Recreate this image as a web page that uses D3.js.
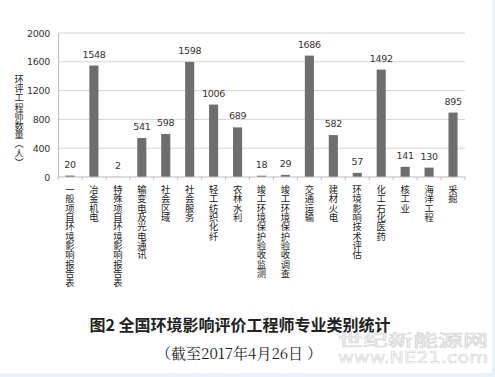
<!DOCTYPE html>
<html>
<head>
<meta charset="utf-8">
<script src="https://cdn.jsdelivr.net/npm/d3@7"></script>
<style>
  body { margin: 0; background: #fff; }
  svg { display: block; }
  .vt { writing-mode: vertical-rl; text-orientation: upright; }
</style>
</head>
<body>
<svg id="chart"></svg>
<script>
// chart data
const categories = ["一般项目环境影响报告表", "冶金机电", "特殊项目环境影响报告表", "输变电及光电通讯",
  "社会区域", "社会服务", "轻工纺织化纤", "农林水利", "竣工环境保护验收监测", "竣工环境保护验收调查",
  "交通运输", "建材火电", "环境影响技术评估", "化工石化医药", "核工业", "海洋工程", "采掘"];
const values = [20, 1548, 2, 541, 598, 1598, 1006, 689, 18, 29, 1686, 582, 57, 1492, 141, 130, 895];
const yTicks = [0, 400, 800, 1200, 1600, 2000];
const yTitle = "环评工程师数量︵人︶";
const title = "图2  全国环境影响评价工程师专业类别统计";
const subtitle = "（截至2017年4月26日 ）";

const width = 495, height = 377;
const margin = {top: 33, right: 30, bottom: 200, left: 58};

const svg = d3.select("#chart")
  .attr("width", width)
  .attr("height", height);

// light blue frame on right / bottom
svg.append("rect").attr("x", 492).attr("y", 0).attr("width", 3).attr("height", height).attr("fill", "#e9f1f9");
svg.append("rect").attr("x", 0).attr("y", 373).attr("width", width).attr("height", 4).attr("fill", "#e9f1f9");

const x = d3.scaleBand()
  .domain(categories)
  .range([margin.left, 465])
  .paddingInner(0.62)
  .paddingOuter(0.31);

const y = d3.scaleLinear()
  .domain([0, 2000])
  .range([177, margin.top]);

// gridlines
svg.append("g")
  .selectAll("line")
  .data(yTicks.filter(d => d > 0))
  .enter().append("line")
  .attr("x1", margin.left).attr("x2", 465)
  .attr("y1", d => y(d)).attr("y2", d => y(d))
  .attr("stroke", "#d4d4d4").attr("stroke-width", 1);

// y axis
const yAxis = svg.append("g")
  .attr("transform", `translate(${margin.left},0)`)
  .call(d3.axisLeft(y).tickValues(yTicks).tickFormat(d3.format("d")).tickSize(0).tickPadding(8));
yAxis.select(".domain").attr("stroke", "#bdbdbd");
yAxis.selectAll("text")
  .attr("fill", "#333")
  .style("font-family", "'DejaVu Sans', sans-serif")
  .style("font-size", "9.5px")
  .style("letter-spacing", "-0.3px");

// bars
svg.append("g")
  .selectAll("rect")
  .data(values)
  .enter().append("rect")
  .attr("x", (d, i) => x(categories[i]))
  .attr("y", d => y(d))
  .attr("width", x.bandwidth())
  .attr("height", d => y(0) - y(d))
  .attr("fill", "#6e6e6e");

// value labels
svg.append("g")
  .selectAll("text")
  .data(values)
  .enter().append("text")
  .attr("x", (d, i) => x(categories[i]) + x.bandwidth() / 2)
  .attr("y", d => y(d) - 8)
  .attr("text-anchor", "middle")
  .attr("fill", "#333")
  .style("font-family", "'DejaVu Sans', sans-serif")
  .style("font-size", "9.5px")
  .style("letter-spacing", "-0.3px")
  .text(d => d);

// x axis with ticks at band boundaries
const step = x.step();
const x0 = margin.left;
svg.append("line")
  .attr("x1", margin.left).attr("x2", 465)
  .attr("y1", 177).attr("y2", 177)
  .attr("stroke", "#bdbdbd");
svg.append("g")
  .selectAll("line")
  .data(d3.range(categories.length + 1))
  .enter().append("line")
  .attr("x1", i => x0 + i * step).attr("x2", i => x0 + i * step)
  .attr("y1", 177).attr("y2", 180)
  .attr("stroke", "#bdbdbd");

// vertical category labels
svg.append("g")
  .selectAll("text")
  .data(categories)
  .enter().append("text")
  .attr("class", "vt")
  .attr("x", d => x(d) + x.bandwidth() / 2)
  .attr("y", 185)
  .style("font-family", "'Noto Sans CJK SC', sans-serif")
  .style("font-size", "9.3px")
  .attr("fill", "#222")
  .text(d => d);

// y axis title
svg.append("text")
  .attr("class", "vt")
  .attr("x", 19)
  .attr("y", 75)
  .style("font-family", "'Noto Sans CJK SC', sans-serif")
  .style("font-size", "9.2px")
  .attr("fill", "#222")
  .text(yTitle);

// caption
svg.append("text")
  .attr("x", 240)
  .attr("y", 331)
  .attr("text-anchor", "middle")
  .style("font-family", "'Noto Sans CJK SC', sans-serif")
  .style("font-size", "16px")
  .style("font-weight", "bold")
  .attr("fill", "#222")
  .text(title);

svg.append("text")
  .attr("x", 239)
  .attr("y", 359)
  .attr("text-anchor", "middle")
  .style("font-family", "'Noto Serif CJK SC', 'Liberation Serif', serif")
  .style("font-size", "15px")
  .attr("fill", "#222")
  .text(subtitle);

// watermark (stretched outline text)
svg.append("text")
  .attr("x", 338).attr("y", 346)
  .attr("textLength", 150).attr("lengthAdjust", "spacingAndGlyphs")
  .style("font-family", "'Noto Sans CJK SC', sans-serif")
  .style("font-size", "16px")
  .attr("fill", "#fff").attr("stroke", "#d6d6d6").attr("stroke-width", 0.7)
  .text("世纪新能源网");
svg.append("text")
  .attr("x", 338).attr("y", 363)
  .attr("textLength", 150).attr("lengthAdjust", "spacingAndGlyphs")
  .style("font-family", "'DejaVu Sans', sans-serif")
  .style("font-size", "15px")
  .attr("fill", "#fff").attr("stroke", "#d6d6d6").attr("stroke-width", 0.6)
  .text("www.NE21.com");
</script>
</body>
</html>
